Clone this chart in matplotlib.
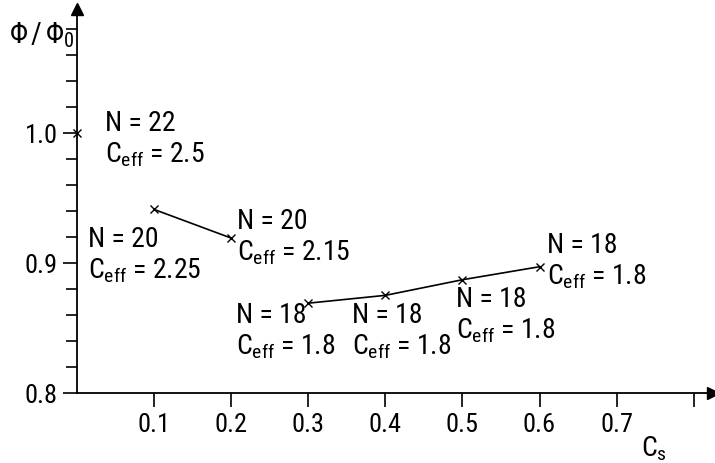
import matplotlib
matplotlib.use("Agg")
import matplotlib.pyplot as plt
from matplotlib import font_manager
from matplotlib.ticker import MultipleLocator

# pick a narrow sans if one is there
font = "DejaVu Sans"
for cand in ["Liberation Sans Narrow", "Roboto Condensed", "Open Sans Condensed",
             "DejaVu Sans Condensed", "Liberation Sans"]:
    try:
        font_manager.findfont(cand, fallback_to_default=False)
        font = cand
        break
    except ValueError:
        pass

plt.rcParams["font.family"] = [font, "DejaVu Sans"]
plt.rcParams["mathtext.fontset"] = "custom"
plt.rcParams["mathtext.rm"] = font
plt.rcParams["mathtext.it"] = font
plt.rcParams["mathtext.default"] = "regular"

# ---- data ----
cs_a = [0.0]
phi_a = [1.0]
cs_b = [0.1, 0.2]
phi_b = [0.941, 0.919]
cs_c = [0.3, 0.4, 0.5, 0.6]
phi_c = [0.869, 0.875, 0.887, 0.897]

n_labels = ["N = 22", "N = 20", "N = 20", "N = 18", "N = 18", "N = 18", "N = 18"]
ceff_labels = ["2.5", "2.25", "2.15", "1.8", "1.8", "1.8", "1.8"]

x_ticks = [0.1, 0.2, 0.3, 0.4, 0.5, 0.6, 0.7]
y_ticks = [0.8, 0.9, 1.0]

fig = plt.figure(figsize=(7.15, 4.64), dpi=100)
ax = fig.add_axes([0.1077, 0.1509, 0.8895, 0.8276])
ax.set_xlim(0, 0.825)
ax.set_ylim(0.8, 1.095)

for s in ["top", "right"]:
    ax.spines[s].set_visible(False)
for s in ["left", "bottom"]:
    ax.spines[s].set_linewidth(1.3)

# arrow heads on the axes
ax.plot(1, 0, ">", color="k", ms=9, transform=ax.transAxes, clip_on=False)
ax.plot(0, 1, "^", color="k", ms=9, transform=ax.transAxes, clip_on=False)

# curves
ax.plot(cs_a, phi_a, "x", color="k", ms=6, mew=1, clip_on=False)
ax.plot(cs_b, phi_b, "-x", color="k", ms=6, mew=1, lw=1.2)
ax.plot(cs_c, phi_c, "-x", color="k", ms=6, mew=1, lw=1.2)

# ticks
ax.set_xticks(x_ticks + [0.8])
ax.set_xticklabels([f"{v:.1f}" for v in x_ticks] + [""])
ax.set_yticks(y_ticks)
ax.set_yticklabels([f"{v:.1f}" for v in y_ticks])
ax.yaxis.set_minor_locator(MultipleLocator(0.02))
ax.tick_params(axis="both", which="both", direction="out", length=10, width=1.2,
               labelsize=19, pad=4)
ax.tick_params(axis="y", which="minor", length=8)

# axis labels
ax.text(-0.088, 1.076, r"$\Phi\,/\,\Phi_0$", fontsize=21, ha="left", va="center",
        clip_on=False)
ax.text(0.732, 0.758, "$C_s$", fontsize=20, ha="left", va="center", clip_on=False)

# annotations (left edge, centre of the N line) in data coords
label_pos = [(0.036, 1.0075), (0.0143, 0.9185), (0.2078, 0.9323),
             (0.2065, 0.8600), (0.3571, 0.8600), (0.4922, 0.8723), (0.6091, 0.9138)]
for (x, y), n, c in zip(label_pos, n_labels, ceff_labels):
    ax.text(x, y, n, fontsize=20, ha="left", va="center")
    ax.text(x, y - 0.0235, "$C_{eff}$ = " + c, fontsize=20, ha="left", va="center")

fig.savefig("out.png", dpi=100)
